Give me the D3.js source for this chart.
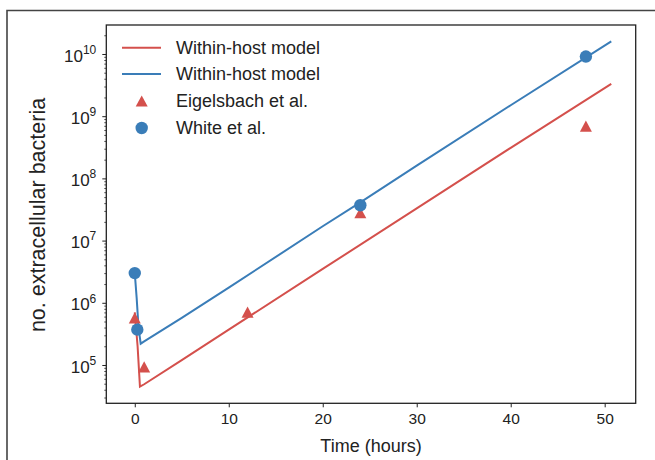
<!DOCTYPE html>
<html>
<head>
<meta charset="utf-8">
<script src="https://cdn.jsdelivr.net/npm/d3@7"></script>
<style>
  body { margin: 0; background: #fff; }
  svg { display: block; font-family: "Liberation Sans", Arial, sans-serif; }
</style>
</head>
<body>
<svg id="chart" width="655" height="460"></svg>
<script>
// model curves (hours, bacteria)
const redTimes = [0, 0.3, 0.55, 1, 5, 10, 20, 30, 40, 50.7];
const redValues = [7.0e5, 2.0e5, 4.5e4, 4.9e4, 1.2e5, 3.7e5, 3.5e6, 3.3e7, 3.1e8, 3.3e9];
const blueTimes = [0, 0.2, 0.4, 0.63, 1, 5, 10, 20, 24, 30, 40, 50.7];
const blueValues = [3.0e6, 1.2e6, 4.0e5, 2.2e5, 2.4e5, 5.7e5, 1.75e6, 1.7e7, 4.1e7, 1.6e8, 1.5e9, 1.6e10];

// observations
const eigTimes = [0, 1, 12, 24, 48];
const eigValues = [5.7e5, 9.3e4, 7.1e5, 2.8e7, 6.9e8];
const whiteTimes = [0, 0.27, 24, 48];
const whiteValues = [3.0e6, 3.7e5, 3.7e7, 9.1e9];

const xTicks = [0, 10, 20, 30, 40, 50];
const yTicks = [1e5, 1e6, 1e7, 1e8, 1e9, 1e10];
const legendLabels = ["Within-host model", "Within-host model", "Eigelsbach et al.", "White et al."];

const red = "#d4504c";
const blue = "#3a7db8";

const svg = d3.select("#chart");

// outer frame of the figure crop
svg.append("path")
    .attr("d", "M7,460 V10.5 H655")
    .attr("fill", "none")
    .attr("stroke", "#444")
    .attr("stroke-width", 1.6);

const x = d3.scaleLinear().domain([-3.03, 53.3]).range([106.3, 635.7]);
const y = d3.scaleLog().domain([Math.pow(10, 4.384), Math.pow(10, 10.466)]).range([403.3, 25]);

// x axis
const gx = svg.append("g")
    .attr("transform", `translate(0,${403.3})`)
    .call(d3.axisBottom(x).tickValues(xTicks).tickSize(4).tickPadding(6));
gx.select(".domain").remove();
gx.selectAll("text").attr("font-size", "15.5px").attr("fill", "#222").attr("font-family", null);
gx.selectAll("line").attr("stroke", "#222");

// y axis, minor then major
const minor = [];
for (let e = 4; e <= 10; e++) {
    for (let m = 2; m <= 9; m++) {
        const v = m * Math.pow(10, e);
        if (v >= y.domain()[0] && v <= y.domain()[1]) minor.push(v);
    }
}
const gyMinor = svg.append("g")
    .attr("transform", "translate(106.3,0)")
    .call(d3.axisLeft(y).tickValues(minor).tickSize(2).tickFormat(""));
gyMinor.select(".domain").remove();
gyMinor.selectAll("line").attr("stroke", "#222").attr("stroke-width", 0.8);

const gy = svg.append("g")
    .attr("transform", "translate(106.3,0)")
    .call(d3.axisLeft(y).tickValues(yTicks).tickSize(4).tickPadding(6).tickFormat(""));
gy.select(".domain").remove();
gy.selectAll("line").attr("stroke", "#222");
gy.selectAll(".tick").each(function(d) {
    const t = d3.select(this).select("text")
        .attr("font-size", "17px")
        .attr("fill", "#222")
        .attr("font-family", null)
        .attr("dy", "0.42em");
    t.append("tspan").text("10");
    t.append("tspan").attr("font-size", "12px").attr("dy", "-0.65em").text(Math.round(Math.log10(d)));
});

// model lines
const line = d3.line().x(d => x(d[0])).y(d => y(d[1]));
svg.append("path")
    .datum(d3.zip(redTimes, redValues))
    .attr("d", line)
    .attr("fill", "none")
    .attr("stroke", red)
    .attr("stroke-width", 2);
svg.append("path")
    .datum(d3.zip(blueTimes, blueValues))
    .attr("d", line)
    .attr("fill", "none")
    .attr("stroke", blue)
    .attr("stroke-width", 2);

// triangle marker like matplotlib '^'
const tri = {
    draw(ctx, s) {
        ctx.moveTo(0, -5.6);
        ctx.lineTo(6, 5.6);
        ctx.lineTo(-6, 5.6);
        ctx.closePath();
    }
};
svg.selectAll(".eig")
    .data(d3.zip(eigTimes, eigValues))
    .join("path")
    .attr("class", "eig")
    .attr("transform", d => `translate(${x(d[0])},${y(d[1])})`)
    .attr("d", d3.symbol(tri))
    .attr("fill", red);

svg.selectAll(".white")
    .data(d3.zip(whiteTimes, whiteValues))
    .join("circle")
    .attr("class", "white")
    .attr("cx", d => x(d[0]))
    .attr("cy", d => y(d[1]))
    .attr("r", 6.2)
    .attr("fill", blue);

// plot frame
svg.append("rect")
    .attr("x", 106.3)
    .attr("y", 25)
    .attr("width", 635.7 - 106.3)
    .attr("height", 403.3 - 25)
    .attr("fill", "none")
    .attr("stroke", "#222")
    .attr("stroke-width", 1.3);

// legend
const leg = svg.append("g");
const rowY = [47.7, 74, 101, 128];
leg.append("line").attr("x1", 122).attr("x2", 161).attr("y1", rowY[0]).attr("y2", rowY[0])
    .attr("stroke", red).attr("stroke-width", 2);
leg.append("line").attr("x1", 122).attr("x2", 161).attr("y1", rowY[1]).attr("y2", rowY[1])
    .attr("stroke", blue).attr("stroke-width", 2);
leg.append("path").attr("transform", `translate(141.7,${rowY[2]})`)
    .attr("d", d3.symbol(tri)).attr("fill", red);
leg.append("circle").attr("cx", 141.7).attr("cy", rowY[3]).attr("r", 6.2).attr("fill", blue);
leg.selectAll("text")
    .data(legendLabels)
    .join("text")
    .attr("x", 176)
    .attr("y", (d, i) => rowY[i] + 6.3)
    .attr("font-size", "18px")
    .attr("fill", "#222")
    .text(d => d);

// axis labels
svg.append("text")
    .attr("x", 371)
    .attr("y", 452)
    .attr("text-anchor", "middle")
    .attr("font-size", "18px")
    .attr("fill", "#222")
    .text("Time (hours)");
svg.append("text")
    .attr("transform", "translate(45,215) rotate(-90)")
    .attr("text-anchor", "middle")
    .attr("font-size", "21.5px")
    .attr("fill", "#222")
    .text("no. extracellular bacteria");
</script>
</body>
</html>
